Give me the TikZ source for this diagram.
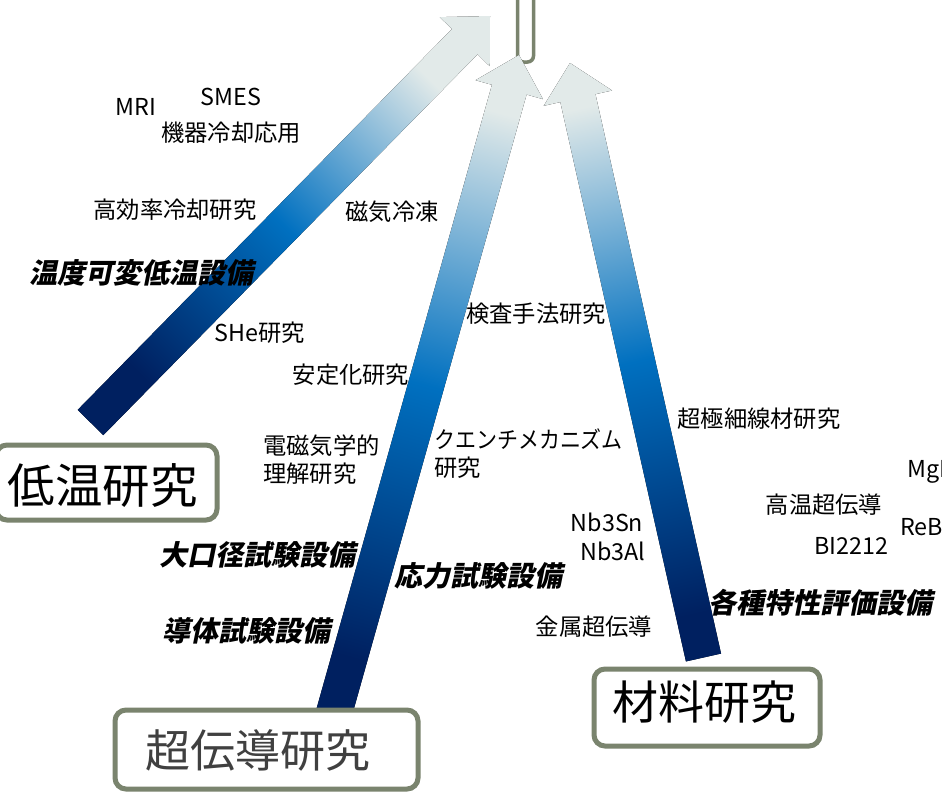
\documentclass[tikz,border=0pt]{standalone}
\usepackage{fontspec}
\setmainfont{Noto Sans CJK JP}
\newfontfamily\bifont{Noto Sans CJK JP}[FakeSlant=0.2,BoldFeatures={FakeSlant=0.2}]
\usetikzlibrary{calc}
\definecolor{navy}{RGB}{0,32,96}
\definecolor{midblue}{RGB}{0,112,192}
\definecolor{pale}{RGB}{226,234,233}
\definecolor{boxline}{RGB}{122,132,110}
\definecolor{boxgray}{RGB}{64,64,64}
\tikzset{
 lbl/.style={font=\fontsize{23.3}{28}\selectfont, inner sep=0pt, text=black},
 bilbl/.style={font=\bifont\bfseries\fontsize{28}{32}\selectfont, inner sep=0pt, text=black},
 bigbox/.style={draw=boxline, line width=5pt, rounded corners=11pt, fill=white, inner sep=0pt},
 boxtext/.style={inner sep=0pt},
 shaft/.style={top color=pale, bottom color=navy, middle color=midblue}
}
\newcommand\gradarrow[2]{%
 \coordinate (#1b) at ($(#1tip)!36pt!(#1tail)$);
 \fill[shaft, shading angle=#2]
   ($(#1tail)!18pt!90:(#1tip)$) -- ($(#1b)!18pt!90:(#1tip)$) -- ($(#1b)!35pt!90:(#1tip)$)
   -- (#1tip)
   -- ($(#1b)!35pt!-90:(#1tip)$) -- ($(#1b)!18pt!-90:(#1tip)$) -- ($(#1tail)!18pt!-90:(#1tip)$) -- cycle;
}
\begin{document}
\begin{tikzpicture}[x=1pt,y=-1pt]
\useasboundingbox (0,0) rectangle (942,793);
\clip (0,0) rectangle (942,793);
\fill[white] (0,0) rectangle (942,793);
% top box
\node[draw=boxline, line width=3.5pt, rounded corners=6pt, minimum width=16, minimum height=130, inner sep=0pt] (topbox) at (525.5,-3) {};
% arrows
\coordinate (a1tail) at (90.5,422.5);
\coordinate (a1tip) at (490,16);
\coordinate (a2tail) at (334,713);
\coordinate (a2tip) at (519,55);
\coordinate (a3tail) at (703.5,657.5);
\coordinate (a3tip) at (570,63);
\gradarrow{a1}{-45}
\gradarrow{a2}{-15.8}
\gradarrow{a3}{12.7}
% boxes
\node[bigbox, minimum width=221, minimum height=75] (box1) at (106.5,482.5) {};
\node[boxtext, font=\fontsize{47.5}{52}\selectfont] (t1) at (103,486) {低温研究};
\node[bigbox, minimum width=303, minimum height=79] (box2) at (266.5,749.5) {};
\node[boxtext, font=\fontsize{45}{50}\selectfont, text=boxgray] (t2) at (258,750) {超伝導研究};
\node[bigbox, minimum width=226, minimum height=77] (box3) at (707,707.5) {};
\node[boxtext, font=\fontsize{46}{50}\selectfont] (t3) at (704,702) {材料研究};
% labels
\node[lbl] (mri) at (136,107) {MRI};
\node[lbl] (smes) at (231,97) {SMES};
\node[lbl] (kiki) at (231,133) {機器冷却応用};
\node[lbl] (kouritsu) at (175,210) {高効率冷却研究};
\node[lbl] (jiki) at (392,212) {磁気冷凍};
\node[bilbl] (ondo) at (141,273) {温度可変低温設備};
\node[lbl] (she) at (260,333) {SHe研究};
\node[lbl] (kensa) at (536,314) {検査手法研究};
\node[lbl] (antei) at (351,375) {安定化研究};
\node[lbl] (gokusai) at (759,419) {超極細線材研究};
\node[lbl, align=left, anchor=west] (denji) at (263,460) {電磁気学的\\理解研究};
\node[lbl, align=left, anchor=west] (quench) at (434,454) {\scalebox{0.9}[1]{クエンチメカニズム}\\研究};
\node[lbl, anchor=west] (mgb) at (907,472) {MgB2};
\node[lbl] (kouon) at (824,505) {高温超伝導};
\node[lbl, anchor=west] (rebco) at (900,527) {ReBCO};
\node[lbl] (bi) at (851,546) {BI2212};
\node[lbl] (nbsn) at (607,522) {Nb3Sn};
\node[lbl] (nbal) at (613,551) {Nb3Al};
\node[bilbl] (daikou) at (257,555) {大口径試験設備};
\node[bilbl] (ouryoku) at (478,576) {応力試験設備};
\node[bilbl] (doutai) at (246,631) {導体試験設備};
\node[lbl] (kinzoku) at (594,627) {金属超伝導};
\node[bilbl] (kakushu) at (820,603) {各種特性評価設備};
\end{tikzpicture}
\end{document}
